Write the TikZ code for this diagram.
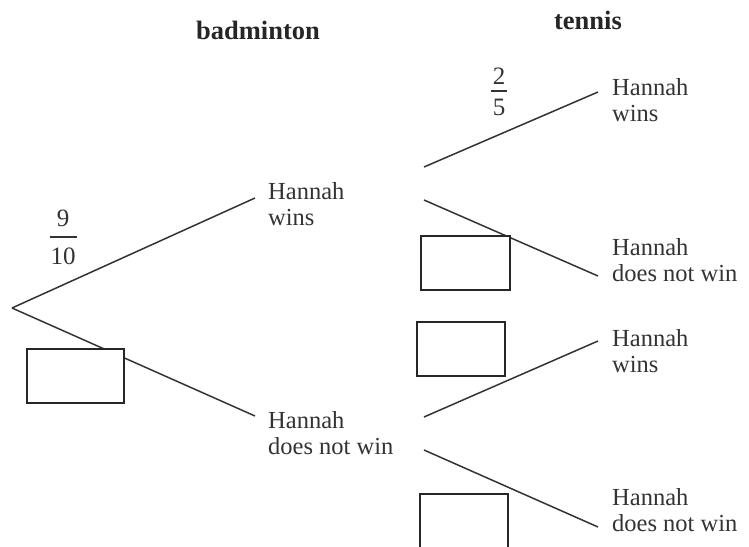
\documentclass[tikz,border=0pt]{standalone}
\usepackage{fontspec}
\setmainfont{Liberation Serif}
\begin{document}
\begin{tikzpicture}[x=1pt,y=-1pt,
  branch/.style={line width=1.5pt,color=black!80},
  ansbox/.style={draw=black!85,fill=white,line width=1.4pt,minimum width=#1,minimum height=54pt,inner sep=0pt},
  lbl/.style={anchor=west,align=left,inner sep=0pt,font=\fontsize{24.5}{26}\selectfont,text=black!80},
  head/.style={font=\fontsize{26.5}{28}\selectfont\bfseries,inner sep=0pt,text=black!85},
  frac/.style={inner sep=0pt,font=\fontsize{25}{26}\selectfont,text=black!80}]
\useasboundingbox (0,0) rectangle (749,546);
\begin{scope}
\clip (0,0) rectangle (749,546);
% headings
\node[head] (hb) at (258,30) {badminton};
\node[head] (ht) at (588,20) {tennis};
% first stage
\coordinate (root) at (12,308);
\coordinate (bw) at (255,198);
\coordinate (bl) at (255,416);
\node[lbl] (lbw) at (268,204) {Hannah\\wins};
\node[lbl] (lbl) at (268,433) {Hannah\\does not win};
\draw[branch] (root) -- (bw);
\draw[branch] (root) -- (bl);
% fraction 9/10
\node[frac] (n9) at (63,218) {9};
\node[frac] (d10) at (63,256) {10};
\draw[line width=1.3pt,color=black!80] (50,237) -- (77,237);
\node[ansbox=97pt] (box1) at (75.5,376) {};
% second stage, upper
\coordinate (uo) at (424,167);
\coordinate (uw) at (598,92);
\coordinate (ul0) at (424,200);
\coordinate (ul) at (598,276);
\draw[branch] (uo) -- (uw);
\draw[branch] (ul0) -- (ul);
\node[lbl] (tuw) at (612,100) {Hannah\\wins};
\node[lbl] (tul) at (612,260) {Hannah\\does not win};
\node[frac] (n2) at (499,76) {2};
\draw[line width=1.3pt,color=black!80] (491,91) -- (507,91);
\node[frac] (d5) at (499,107) {5};
\node[ansbox=89pt] (box2) at (465.5,263) {};
% second stage, lower
\coordinate (lo) at (424,417);
\coordinate (lw) at (598,341);
\coordinate (ll0) at (424,450);
\coordinate (ll) at (598,527);
\draw[branch] (lo) -- (lw);
\draw[branch] (ll0) -- (ll);
\node[lbl] (tlw) at (612,351) {Hannah\\wins};
\node[lbl] (tll) at (612,510) {Hannah\\does not win};
\node[ansbox=88pt] (box3) at (461,349) {};
\node[ansbox=88pt] (box4) at (464,521) {};
\end{scope}
\end{tikzpicture}
\end{document}
